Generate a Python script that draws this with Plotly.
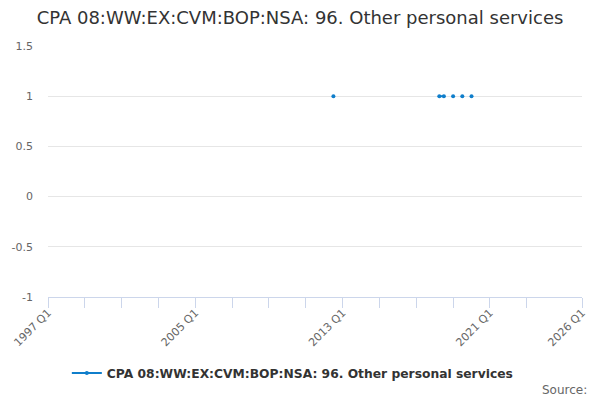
import plotly.graph_objects as go

# Categories: quarters from 1997 Q1 to 2026 Q1
quarters = [f"{y} Q{q}" for y in range(1997, 2027) for q in range(1, 5)]
quarters = quarters[:quarters.index("2026 Q1") + 1]

# Observed values (all others missing)
obs_quarters = ["2012 Q3", "2018 Q2", "2018 Q3", "2019 Q1", "2019 Q3", "2020 Q1"]
obs_values = [1, 1, 1, 1, 1, 1]

obs = dict(zip(obs_quarters, obs_values))
values = [obs.get(q) for q in quarters]

tick_quarters = ["1997 Q1", "1999 Q1", "2001 Q1", "2003 Q1", "2005 Q1", "2007 Q1",
                 "2009 Q1", "2011 Q1", "2013 Q1", "2015 Q1", "2017 Q1", "2019 Q1",
                 "2021 Q1", "2023 Q1", "2026 Q1"]
labelled = ["1997 Q1", "2005 Q1", "2013 Q1", "2021 Q1", "2026 Q1"]
tick_text = [t if t in labelled else "" for t in tick_quarters]

series_name = "CPA 08:WW:EX:CVM:BOP:NSA: 96. Other personal services"
color = "#0f7ecb"

fig = go.Figure()
fig.add_trace(go.Scatter(
    x=quarters, y=values, mode="lines+markers", name=series_name,
    line=dict(color=color, width=2), marker=dict(color=color, size=4),
    connectgaps=False,
))

fig.update_layout(
    width=600, height=400,
    margin=dict(l=48, r=18, t=46, b=103),
    paper_bgcolor="white", plot_bgcolor="white",
    font=dict(family="DejaVu Sans", color="#666666", size=11),
    title=dict(text=series_name, x=0.5, xanchor="center", y=1 - 18 / 400,
               yanchor="middle", font=dict(size=18, color="#333333")),
    showlegend=True,
    legend=dict(orientation="h", x=0.4585, xanchor="center", y=(297 - 373) / 251,
                yanchor="middle", font=dict(size=12.3, color="#333333", weight="bold"),
                itemwidth=30),
    xaxis=dict(
        type="category", categoryorder="array", categoryarray=quarters,
        range=[0, len(quarters) - 1], automargin=False,
        tickmode="array", tickvals=tick_quarters, ticktext=tick_text,
        tickangle=-45, ticks="outside", ticklen=10, tickcolor="#ccd6eb",
        ticklabelstandoff=-6,
        showline=True, linecolor="#ccd6eb", linewidth=1,
        showgrid=False, zeroline=False, tickfont=dict(size=11, color="#666666"),
    ),
    yaxis=dict(
        range=[-1, 1.5], tickmode="array", tickvals=[-1, -0.5, 0, 0.5, 1, 1.5],
        ticktext=["-1", "-0.5", "0", "0.5", "1", "1.5"], automargin=False,
        showgrid=True, gridcolor="#e6e6e6", zeroline=False, showline=False,
        ticks="", ticklabelstandoff=14, tickfont=dict(size=11, color="#666666"),
    ),
    annotations=[dict(text="Source:", xref="paper", yref="paper",
                      x=(589 - 48) / 534, y=(297 - 390) / 251, xanchor="right",
                      yanchor="middle", showarrow=False,
                      font=dict(size=12, color="#666666"))],
)

fig.write_html("out.html", config={"displayModeBar": False},
               post_script="document.body.style.margin='0';")
